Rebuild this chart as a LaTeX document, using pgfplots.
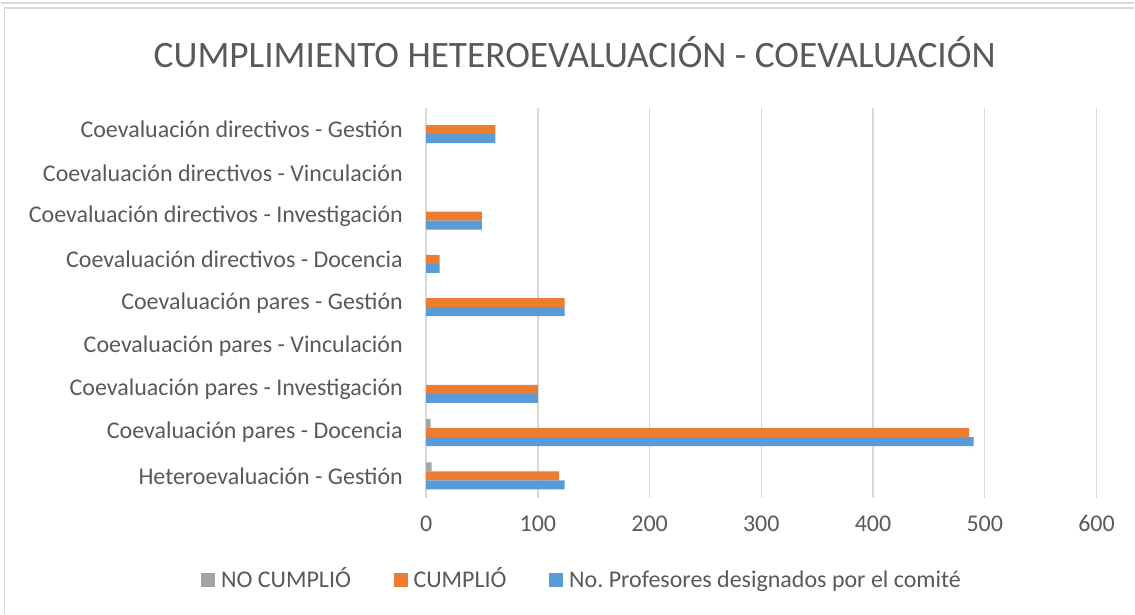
\documentclass[border=0pt]{standalone}
\usepackage{fontspec}
\setmainfont{Carlito}
\usepackage{pgfplots}
\pgfplotsset{compat=1.18}
\definecolor{cgray}{HTML}{A5A5A5}
\definecolor{corange}{HTML}{ED7D31}
\definecolor{cblue}{HTML}{5B9BD5}
\definecolor{ctext}{HTML}{595959}
\definecolor{cgrid}{HTML}{D9D9D9}
\newcommand{\sq}[1]{\textcolor{#1}{\rule{10.5pt}{10.5pt}}\hspace{4.5pt}}
\frenchspacing
\begin{document}
\begin{tikzpicture}
\path (0,0) rectangle (851.25pt,461.25pt);
\draw[cgrid,line width=0.8pt] (3pt,0pt) -- (3pt,455.25pt) -- (851.25pt,455.25pt);
\draw[cgrid,line width=0.8pt] (0pt,459pt) -- (851.25pt,459pt);
\node[text=ctext,font=\fontsize{28}{32}\selectfont] at (431pt,422pt) {CUMPLIMIENTO HETEROEVALUACIÓN - COEVALUACIÓN};
\begin{axis}[
  at={(319.5pt,87.75pt)}, anchor=south west,
  scale only axis, width=503.25pt, height=292.5pt,
  xmin=0, xmax=600, ymin=-0.5, ymax=8.5,
  xtick={0,100,...,600}, ytick={0,...,8},
  yticklabels={Heteroevaluación - Gestión, Coevaluación pares - Docencia, Coevaluación pares - Investigación, Coevaluación pares - Vinculación, Coevaluación pares - Gestión, Coevaluación directivos - Docencia, Coevaluación directivos - Investigación, Coevaluación directivos - Vinculación, Coevaluación directivos - Gestión},
  /pgf/number format/assume math mode=true,
  ticklabel style={text=ctext,font=\fontsize{18}{20}\selectfont},
  yticklabel style={xshift=-14pt},
  xticklabel style={yshift=-10pt},
  major tick length=0pt,
  axis line style={draw=none},
  xmajorgrids, grid style={cgrid,line width=1pt},
  xbar, bar width=6.75pt,
  legend style={at={(0.231,-0.215)},anchor=center,draw=none,legend columns=3,
    font=\fontsize{18}{20}\selectfont,text=ctext,
    nodes={text height=13pt,text depth=4pt,inner xsep=0pt},
    /tikz/every odd column/.append style={column sep=0pt},
    /tikz/every even column/.append style={column sep=32pt}},
  legend image code/.code={},
]
\addplot[fill=cgray,draw=none,bar shift=6.75pt] coordinates {(5,0) (4,1)};
\addplot[fill=corange,draw=none,bar shift=0pt] coordinates {(119,0) (486,1) (100,2) (124,4) (12,5) (50,6) (62,8)};
\addplot[fill=cblue,draw=none,bar shift=-6.75pt] coordinates {(124,0) (490,1) (100,2) (124,4) (12,5) (50,6) (62,8)};
\legend{\sq{cgray}NO CUMPLIÓ, \sq{corange}CUMPLIÓ, \sq{cblue}No.\ Profesores designados por el comité}
\end{axis}
\end{tikzpicture}
\end{document}
